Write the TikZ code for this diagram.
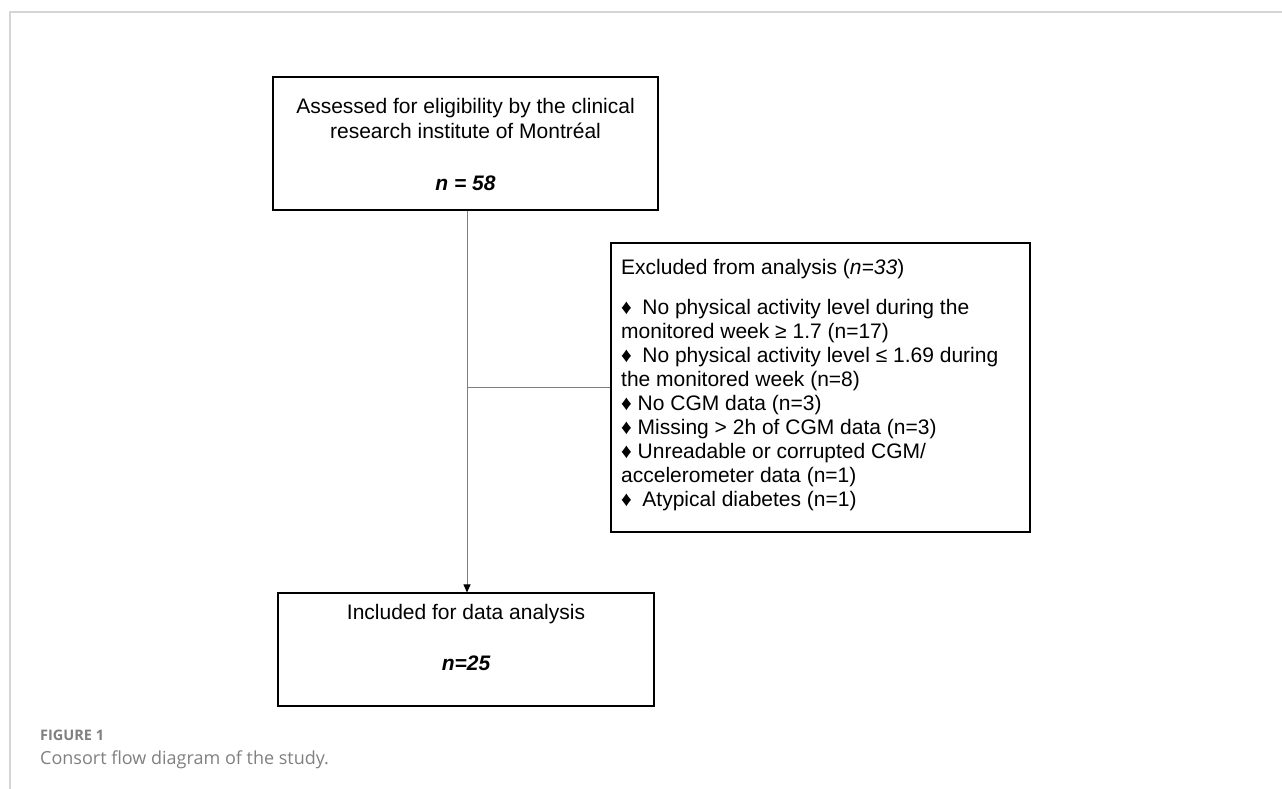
\documentclass[tikz,border=0pt]{standalone}
\usepackage{fontspec}
\setmainfont{Liberation Sans}
\newfontfamily\capfont{Open Sans}
\usetikzlibrary{arrows.meta}
\definecolor{framegray}{HTML}{D5D5D5}
\definecolor{conngray}{HTML}{7F7F7F}
\definecolor{capgray}{HTML}{808080}
\tikzset{
  box/.style={draw=black, line width=1.1pt, inner sep=0pt},
  txt/.style={anchor=base, inner sep=0pt, font=\fontsize{21}{24}\selectfont},
  btxt/.style={anchor=base, inner sep=0pt, font=\fontsize{21}{24}\selectfont\bfseries\itshape},
  ltxt/.style={anchor=base west, inner sep=0pt, font=\fontsize{21}{24}\selectfont},
  conn/.style={draw=conngray, line width=1pt},
  capbold/.style={anchor=base west, inner sep=0pt, text=capgray, font=\capfont\bfseries\fontsize{14.5}{16}\selectfont},
  capreg/.style={anchor=base west, inner sep=0pt, text=capgray, font=\capfont\fontsize{18}{20}\selectfont},
}
\begin{document}
\begin{tikzpicture}[x=1pt,y=-1pt]
\useasboundingbox (0,0) rectangle (1282,789);
\draw[framegray, line width=1.5pt] (10,789) -- (10,12) -- (1282,12);

% top box
\node[box, minimum width=385pt, minimum height=133pt] (top) at (465.5,143.5) {};
\node[txt] (t1) at (465.5,114) {Assessed for eligibility by the clinical};
\node[txt] (t2) at (465.5,139) {research institute of Montréal};
\node[btxt] (t3) at (465.5,190) {n = 58};

% excluded box
\node[box, minimum width=419pt, minimum height=289pt] (excl) at (820.5,387.5) {};
\node[ltxt] (e0) at (621,274) {Excluded from analysis (\textit{n=33})};
\node[ltxt] (e1) at (621,314) {♦\hspace{0.5em}No physical activity level during the};
\node[ltxt] (e2) at (621,338) {monitored week ≥ 1.7 (n=17)};
\node[ltxt] (e3) at (621,362) {♦\hspace{0.5em}No physical activity level ≤ 1.69 during};
\node[ltxt] (e4) at (621,386) {the monitored week (n=8)};
\node[ltxt] (e5) at (621,410) {♦ No CGM data (n=3)};
\node[ltxt] (e6) at (621,434) {♦ Missing > 2h of CGM data (n=3)};
\node[ltxt] (e7) at (621,458) {♦ Unreadable or corrupted CGM/};
\node[ltxt] (e8) at (621,482) {accelerometer data (n=1)};
\node[ltxt] (e9) at (621,506) {♦\hspace{0.5em}Atypical diabetes (n=1)};

% bottom box
\node[box, minimum width=376pt, minimum height=113pt] (bot) at (466,649.5) {};
\node[txt] (b1) at (466,619) {Included for data analysis};
\node[btxt] (b2) at (466,670) {n=25};

% connectors
\coordinate (j) at (467,387);
\draw[conn, -{Triangle[width=7pt,length=8pt,color=black]}] (top.south -| j) -- (bot.north -| j);
\draw[conn] (j) -- (excl.west |- j);

% caption
\node[capbold] (fig) at (40,740) {FIGURE 1};
\node[capreg] (cap) at (40,764) {Consort flow diagram of the study.};
\end{tikzpicture}
\end{document}
